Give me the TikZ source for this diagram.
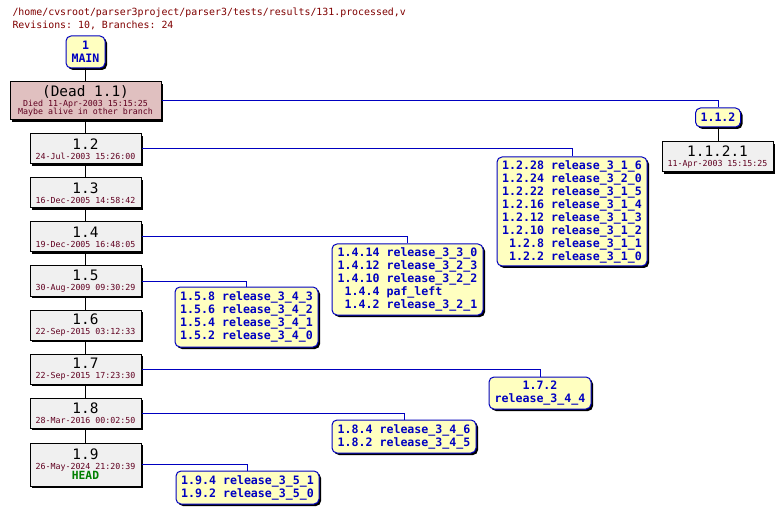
\documentclass[tikz,border=0pt]{standalone}
\usepackage{fontspec}
\setmonofont{DejaVu Sans Mono}
\usetikzlibrary{shadows}
\definecolor{cvsblue}{RGB}{0,0,192}
\definecolor{cvsred}{RGB}{128,0,0}
\definecolor{datered}{RGB}{96,0,32}
\definecolor{revgrey}{RGB}{240,240,240}
\definecolor{deadpink}{RGB}{224,192,192}
\definecolor{tagyellow}{RGB}{255,255,192}
\definecolor{headgreen}{RGB}{0,128,0}
\newcommand{\revno}{\fontsize{14.4}{15}\selectfont}
\newcommand{\revstamp}{\fontsize{8.3}{9.5}\selectfont\color{datered}}
\newcommand{\pd}{\phantom{1}}

\begin{document}
\begin{tikzpicture}[x=1pt,y=-1pt,font=\ttfamily,
  rev/.style={draw,line width=1pt,fill=revgrey,minimum width=111,minimum height=30,inner sep=1pt,align=center,
    drop shadow={shadow xshift=2pt,shadow yshift=-2pt,fill=black,opacity=1}},
  tag/.style={draw=cvsblue,line width=1pt,fill=tagyellow,rounded corners=5pt,text=cvsblue,align=left,inner sep=3pt,
    font=\ttfamily\bfseries\fontsize{11.6}{13}\selectfont,
    drop shadow={shadow xshift=2pt,shadow yshift=-2pt,fill=black,opacity=1}},
  trunk/.style={line width=1pt},
  branch/.style={draw=cvsblue,line width=1pt}]
\useasboundingbox[fill=white] (0,0) rectangle (782,513);
\node[anchor=west,text=cvsred,font=\ttfamily\fontsize{9.9}{11}\selectfont] (path) at (9,12.5)
 {/home/cvsroot/parser3project/parser3/tests/results/131.processed,v};
\node[anchor=west,text=cvsred,font=\ttfamily\fontsize{9.9}{11}\selectfont] (stats) at (9,25)
 {Revisions: 10, Branches: 24};
\node[tag,align=center,minimum width=39,minimum height=32,inner sep=2pt] (main) at (85.5,52) {1\\MAIN};
\node[rev,fill=deadpink,minimum width=151,minimum height=38] (dead) at (85.5,101)
 {{\revno (Dead 1.1)}\\[-2pt]{\revstamp Died 11-Apr-2003 15:15:25}\\[-4pt]{\revstamp Maybe alive in other branch}};
\node[rev] (r12) at (85.5,149) {{\revno 1.2}\\[-2pt]{\revstamp 24-Jul-2003 15:26:00}};
\node[rev] (r13) at (85.5,193) {{\revno 1.3}\\[-2pt]{\revstamp 16-Dec-2005 14:58:42}};
\node[rev] (r14) at (85.5,237) {{\revno 1.4}\\[-2pt]{\revstamp 19-Dec-2005 16:48:05}};
\node[rev] (r15) at (85.5,281) {{\revno 1.5}\\[-2pt]{\revstamp 30-Aug-2009 09:30:29}};
\node[rev] (r16) at (85.5,325) {{\revno 1.6}\\[-2pt]{\revstamp 22-Sep-2015 03:12:33}};
\node[rev] (r17) at (85.5,369) {{\revno 1.7}\\[-2pt]{\revstamp 22-Sep-2015 17:23:30}};
\node[rev] (r18) at (85.5,413) {{\revno 1.8}\\[-2pt]{\revstamp 28-Mar-2016 00:02:50}};
\node[rev,minimum height=43] (r19) at (85.5,464.5)
 {{\revno 1.9}\\[-2pt]{\revstamp 26-May-2024 21:20:39}\\[-2pt]{\bfseries\fontsize{11.3}{12}\selectfont\color{headgreen}HEAD}};
\node[tag,align=center,minimum width=45,minimum height=19,inner sep=1pt] (b112) at (718,117.5) {1.1.2};
\node[rev] (r1121) at (717.5,157) {{\revno 1.1.2.1}\\[-2pt]{\revstamp 11-Apr-2003 15:15:25}};
\node[tag,minimum width=150,minimum height=109] (b12) at (572,211.5)
 {1.2.28 release\_3\_1\_6\\1.2.24 release\_3\_2\_0\\1.2.22 release\_3\_1\_5\\1.2.16 release\_3\_1\_4\\
  1.2.12 release\_3\_1\_3\\1.2.10 release\_3\_1\_2\\\pd1.2.8 release\_3\_1\_1\\\pd1.2.2 release\_3\_1\_0};
\node[tag,minimum width=151,minimum height=71] (b14) at (407.5,279.5)
 {1.4.14 release\_3\_3\_0\\1.4.12 release\_3\_2\_3\\1.4.10 release\_3\_2\_2\\\pd1.4.4 paf\_left\\\pd1.4.2 release\_3\_2\_1};
\node[tag,minimum width=143,minimum height=60] (b15) at (246.5,317)
 {1.5.8 release\_3\_4\_3\\1.5.6 release\_3\_4\_2\\1.5.4 release\_3\_4\_1\\1.5.2 release\_3\_4\_0};
\node[tag,align=center,minimum width=102,minimum height=32] (b17) at (540,393) {1.7.2\\release\_3\_4\_4};
\node[tag,minimum width=144,minimum height=33] (b18) at (404,436.5) {1.8.4 release\_3\_4\_6\\1.8.2 release\_3\_4\_5};
\node[tag,minimum width=143,minimum height=33] (b19) at (247.5,487.5) {1.9.4 release\_3\_5\_1\\1.9.2 release\_3\_5\_0};
\draw[trunk] (main.south) -- (dead.north);
\draw[trunk] (dead.south) -- (r12.north);
\draw[trunk] (r12.south) -- (r13.north);
\draw[trunk] (r13.south) -- (r14.north);
\draw[trunk] (r14.south) -- (r15.north);
\draw[trunk] (r15.south) -- (r16.north);
\draw[trunk] (r16.south) -- (r17.north);
\draw[trunk] (r17.south) -- (r18.north);
\draw[trunk] (r18.south) -- (r19.north);
\draw[trunk] (b112.south) -- (b112.south |- r1121.north);
\draw[branch] (dead.east) -| (b112.north);
\draw[branch] (r12.east) -| (b12.north);
\draw[branch] (r14.east) -| (b14.north);
\draw[branch] (r15.east) -| (b15.north);
\draw[branch] (r17.east) -| (b17.north);
\draw[branch] (r18.east) -| (b18.north);
\draw[branch] (r19.east) -| (b19.north);
\end{tikzpicture}
\end{document}
